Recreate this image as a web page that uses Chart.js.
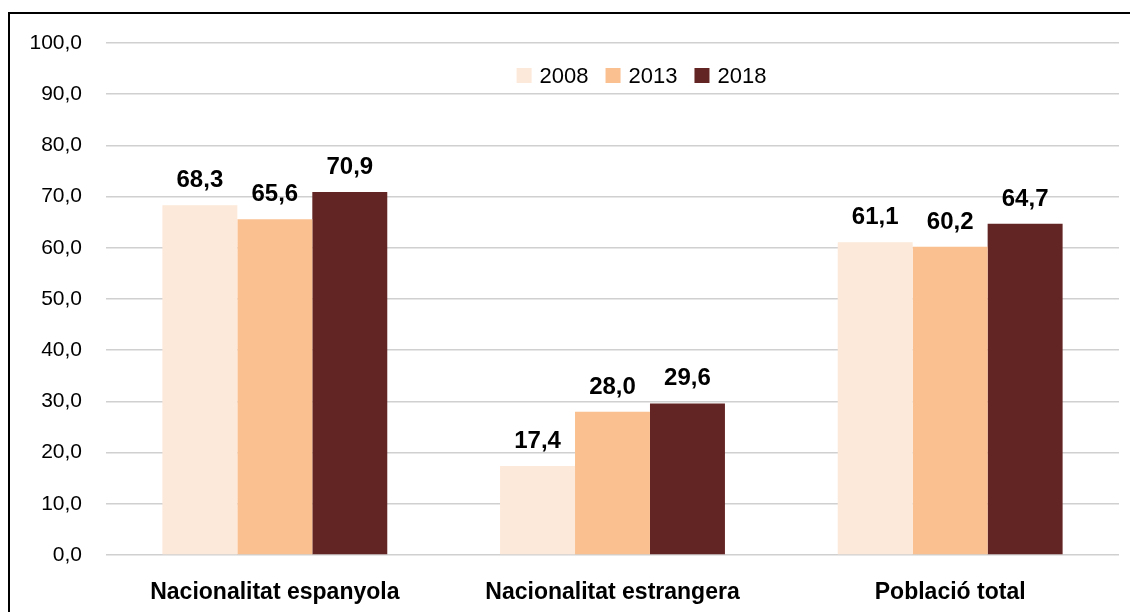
<!DOCTYPE html>
<html>
<head>
<meta charset="utf-8">
<script src="https://cdn.jsdelivr.net/npm/chart.js@4/dist/chart.umd.min.js"></script>
<style>
  html, body { margin: 0; padding: 0; background: #fff; }
  #wrap { position: relative; width: 1130px; height: 612px; }
  #frame {
    position: absolute; left: 8px; top: 12px; right: -4px; bottom: -4px;
    border-top: 2px solid #000; border-left: 2px solid #000;
    pointer-events: none;
  }
</style>
</head>
<body>
<div id="wrap">
  <canvas id="chart" width="1130" height="612"></canvas>
  <div id="frame"></div>
</div>
<script>
const categories = ['Nacionalitat espanyola', 'Nacionalitat estrangera', 'Població total'];
const years = ['2008', '2013', '2018'];
const values2008 = [68.3, 17.4, 61.1];
const values2013 = [65.6, 28.0, 60.2];
const values2018 = [70.9, 29.6, 64.7];
const colors = ['#FDE9D9', '#FAC090', '#632523'];

const FONT = "'Liberation Sans', Arial, sans-serif";
const fmt = v => v.toFixed(1).replace('.', ',');

// value labels above each bar
const barLabels = {
  id: 'barLabels',
  afterDatasetsDraw(chart) {
    const ctx = chart.ctx;
    ctx.save();
    ctx.font = 'bold 24px ' + FONT;
    ctx.fillStyle = '#000';
    ctx.textAlign = 'center';
    ctx.textBaseline = 'alphabetic';
    chart.data.datasets.forEach((ds, i) => {
      chart.getDatasetMeta(i).data.forEach((bar, j) => {
        ctx.fillText(fmt(ds.data[j]), bar.x, bar.y - 18);
      });
    });
    ctx.restore();
  }
};

// legend row inside the plot, under the top gridline
const insideLegend = {
  id: 'insideLegend',
  afterDraw(chart) {
    const ctx = chart.ctx;
    ctx.save();
    ctx.font = '22px ' + FONT;
    const box = 15, gapText = 8, gapItem = 17;
    const items = chart.data.datasets.map(ds => ({
      label: ds.label, color: ds.backgroundColor, w: ctx.measureText(ds.label).width
    }));
    const total = items.reduce((s, it) => s + box + gapText + it.w, 0) + gapItem * (items.length - 1);
    let x = 641.5 - total / 2;
    const cy = 75.5;
    ctx.textBaseline = 'middle';
    ctx.textAlign = 'left';
    items.forEach(it => {
      ctx.fillStyle = it.color;
      ctx.fillRect(x, cy - box / 2, box, box);
      ctx.fillStyle = '#000';
      ctx.fillText(it.label, x + box + gapText, cy + 1);
      x += box + gapText + it.w + gapItem;
    });
    ctx.restore();
  }
};

new Chart(document.getElementById('chart').getContext('2d'), {
  type: 'bar',
  data: {
    labels: categories,
    datasets: [
      { label: years[0], data: values2008, backgroundColor: colors[0] },
      { label: years[1], data: values2013, backgroundColor: colors[1] },
      { label: years[2], data: values2018, backgroundColor: colors[2] },
    ],
  },
  options: {
    responsive: false,
    animation: false,
    layout: { padding: { left: 0, right: 11, top: 43, bottom: 0 } },
    datasets: { bar: { barPercentage: 1, categoryPercentage: 0.666 } },
    plugins: {
      legend: { display: false },
      tooltip: { enabled: false },
    },
    scales: {
      x: {
        grid: { display: false },
        border: { display: false },
        ticks: { color: '#000', font: { family: FONT, size: 23, weight: 'bold' }, padding: 16 },
        afterFit(scale) { scale.height = 57; },
      },
      y: {
        min: 0, max: 100,
        grid: { color: '#d0d0d0', lineWidth: 1.5, drawTicks: false },
        border: { display: false },
        ticks: {
          stepSize: 10, color: '#000', padding: 24,
          font: { family: FONT, size: 21 },
          callback: v => fmt(v),
        },
        afterFit(scale) { scale.width = 106; },
      },
    },
  },
  plugins: [barLabels, insideLegend],
});
</script>
</body>
</html>
